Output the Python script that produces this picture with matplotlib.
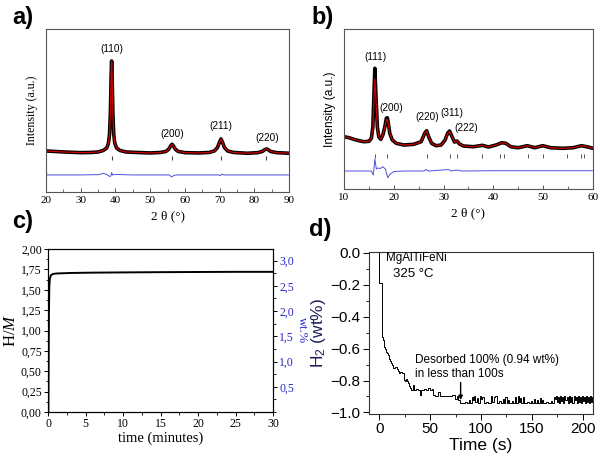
import matplotlib
matplotlib.use('Agg')
import matplotlib.pyplot as plt
from matplotlib.ticker import MultipleLocator

plt.rcParams['mathtext.fontset'] = 'custom'
plt.rcParams['mathtext.rm'] = 'Liberation Sans'
plt.rcParams['mathtext.it'] = 'Liberation Serif:italic'

SERIF = 'Liberation Serif'
SANS = 'Liberation Sans'

# a) XRD pattern (observed ~ calculated), arbitrary intensity units
a_x = [20, 25, 30, 33, 35, 36.5, 37.5, 38.0, 38.3, 38.55, 38.75, 38.9, 39.05, 39.25, 39.5,
       39.8, 40.3, 41.3, 43, 46, 50, 53, 54.5, 55.3, 55.9, 56.3, 56.7, 57.3, 58.1, 60,
       64, 67, 68.5, 69.4, 70.0, 70.4, 70.8, 71.4, 72.3, 74, 78, 81, 82.3, 83.1, 83.5,
       83.9, 84.7, 86.5, 90]
a_obs = [41, 40, 39.3, 39.5, 40, 41.5, 44, 49, 58, 80, 115, 131, 115, 80, 58,
         49, 44, 41.5, 40, 39.5, 39, 39.5, 40.5, 42.5, 46, 47.7, 46, 42.5, 40.5, 39.3,
         39, 39.5, 41, 44.5, 50, 53, 50, 44.5, 41, 39.5, 38.7, 39.3, 40.5, 42.5, 43,
         42.5, 40.5, 39.3, 38.7]
a_calc = a_obs
a_dx = [20, 20.2, 30, 35, 36.5, 37.5, 38.3, 38.7, 38.9, 39.2, 40, 45, 55.5, 56.2, 56.8,
        57.5, 69.8, 70.2, 70.6, 71.2, 90]
a_diff = [34, 17, 17, 17.3, 18.5, 17.5, 15.5, 16, 19.5, 17, 17.5, 17, 17, 15, 16.5,
          17, 17, 16.2, 17.8, 17, 17]
a_bragg = [38.9, 56.3, 70.4, 83.5]
a_hkl = ['(110)', '(200)', '(211)', '(220)']

# b) XRD pattern of the hydride
b_x = [10, 11, 12, 13, 14, 15, 15.5, 15.8, 16.0, 16.2, 16.4, 16.7, 17.0, 17.4, 17.8,
       18.2, 18.5, 18.7, 18.9, 19.2, 19.7, 20.5, 22, 24, 25.5, 26.2, 26.6, 27.0, 27.6, 28.5,
       29.5, 30.3, 30.8, 31.2, 31.7, 32.2, 32.7, 33.2, 34, 36, 37.8, 39, 40.5, 41.7, 42.5,
       43.5, 45, 46.8, 48.3, 49.9, 51.5, 54, 56, 57.7, 59, 60]
b_obs = [52.3, 51.3, 49.7, 48.3, 47.3, 47.7, 50.7, 62, 92, 120.7, 95.7, 62, 52, 49.7, 54,
         62, 70.7, 71.3, 66, 55.7, 49, 45.7, 44, 44.7, 47.3, 55.7, 58.3, 52.3, 45.7, 43.3,
         44, 49, 55.7, 58, 52.3, 47, 48, 45, 43, 42.3, 43.7, 42, 44, 46.3, 45.7,
         42.3, 41.3, 43.3, 41.3, 43.3, 41.3, 40.7, 41.3, 43.3, 42, 40.7]
b_calc = [52.3, 51.3, 49.7, 48.3, 47.3, 47.7, 50.7, 61, 88, 110, 92, 61, 52, 49.7, 54,
          62, 69, 69.5, 65, 55.7, 49, 45.7, 44, 44.7, 47.3, 55.7, 58, 52.3, 45.7, 43.3,
          44, 49, 55.7, 57.5, 52.3, 47, 48, 45, 43, 42.3, 43.7, 42, 44, 46.3, 45.7,
          42.3, 41.3, 43.3, 41.3, 43.3, 41.3, 40.7, 41.3, 43.3, 42, 40.7]
b_dx = [10, 15.5, 15.9, 16.2, 16.5, 16.8, 17.3, 17.8, 18.3, 18.8, 19.3, 20, 22, 26, 26.5,
        27, 31, 31.5, 32.8, 33.5, 40, 60]
b_diff = [18, 18, 14, 30, 20, 21, 20.5, 22.3, 20, 11.3, 15, 17.5, 18, 18, 19.5,
          18, 19.5, 18, 19, 18, 18.3, 18.3]
b_bragg = [16.2, 18.7, 26.6, 31.2, 32.6, 37.8, 41.3, 42.1, 46.9, 49.9, 54.7, 57.5, 58.2]
b_hkl = ['(111)', '(200)', '(220)', '(311)', '(222)']

# c) absorption kinetics
c_t = [0, 0.05, 0.08, 0.12, 0.18, 0.25, 0.4, 0.7, 1.2, 3, 6, 10, 15, 20, 25, 30]
c_hm = [0, 0, 0.5, 1.2, 1.55, 1.64, 1.68, 1.695, 1.70, 1.706, 1.71, 1.713, 1.716, 1.718, 1.72, 1.72]
c_yticks = [0, 0.25, 0.5, 0.75, 1.0, 1.25, 1.5, 1.75, 2.0]
c_ylabels = ['0,00', '0,25', '0,50', '0,75', '1,00', '1,25', '1,50', '1,75', '2,00']
c_wticks = [0.5, 1.0, 1.5, 2.0, 2.5, 3.0]
c_wlabels = ['0,5', '1,0', '1,5', '2,0', '2,5', '3,0']

# d) desorption at 325 C (step data)
d_steps = [(0, 0.0), (0.3, -0.19), (2.6, -0.53), (3.5, -0.545), (4.3, -0.59), (5.5, -0.6),
           (6.5, -0.62), (7.5, -0.63), (8.5, -0.64), (9.8, -0.665), (11, -0.68), (11.8, -0.69),
           (13, -0.70), (14, -0.72), (15.5, -0.715), (17.3, -0.73), (18, -0.74), (19, -0.75),
           (20.5, -0.745), (22.3, -0.75), (24, -0.795), (25, -0.80), (26, -0.79), (27.3, -0.806),
           (28, -0.815), (29, -0.837), (30.5, -0.85), (31.5, -0.86), (33, -0.83), (33.8, -0.86),
           (36, -0.855), (38, -0.86), (40.5, -0.89), (41.3, -0.86), (44, -0.855), (46, -0.86),
           (48, -0.85), (50, -0.86), (51.7, -0.855), (53, -0.89), (55, -0.90), (57, -0.895),
           (58, -0.87), (60, -0.90), (62, -0.895), (64, -0.90), (68, -0.895), (70, -0.90),
           (72, -0.89), (74.7, -0.915), (76, -0.90), (77.5, -0.92), (79.5, -0.94),
           (84, -0.935), (86, -0.94), (88, -0.92), (89, -0.94), (91, -0.905), (92, -0.92),
           (93, -0.90), (94.5, -0.935), (96, -0.91), (97, -0.94), (99, -0.90), (100, -0.915),
           (101, -0.905), (102.5, -0.94), (105, -0.935), (107, -0.94), (110, -0.90), (111, -0.935),
           (112.5, -0.905), (113.5, -0.90), (116, -0.94), (118, -0.93), (120, -0.94), (122, -0.915),
           (123, -0.94), (124, -0.905), (125.5, -0.94), (127, -0.925), (128, -0.94), (130, -0.93),
           (131, -0.94), (133, -0.905), (134.5, -0.94), (136, -0.90), (137, -0.935), (138.5, -0.91),
           (139.5, -0.94), (141, -0.905), (142, -0.94), (145, -0.935), (147, -0.94), (149, -0.93),
           (150, -0.94), (152, -0.915), (153, -0.94), (155.5, -0.92), (156, -0.94), (157.5, -0.91),
           (158.5, -0.94), (160, -0.925), (161, -0.94), (164, -0.935), (166, -0.94), (169, -0.93),
           (170, -0.94), (172, -0.905), (173, -0.915), (174, -0.90), (175, -0.935), (176, -0.905),
           (177, -0.94), (178, -0.90), (179, -0.93), (180, -0.905), (181, -0.94), (182, -0.90),
           (183, -0.92), (184, -0.905), (185, -0.94), (186.5, -0.90), (187.5, -0.935), (188.5, -0.905),
           (189.5, -0.94), (191, -0.90), (192, -0.925), (193, -0.905), (194, -0.94), (195, -0.90),
           (196, -0.935), (197, -0.905), (198, -0.94), (199.5, -0.90), (200.5, -0.93), (201.5, -0.905),
           (202.5, -0.94), (203.5, -0.90), (204.5, -0.935), (205.5, -0.905), (206.5, -0.94),
           (207.5, -0.90), (208.5, -0.935), (209.5, -0.905), (210, -0.92)]
d_t = [p[0] for p in d_steps]
d_h = [p[1] for p in d_steps]

fig = plt.figure(figsize=(6, 4.57), dpi=100)
ax_a = fig.add_axes([0.0767, 0.580, 0.405, 0.3565])
ax_b = fig.add_axes([0.5733, 0.5864, 0.415, 0.3501])
ax_c = fig.add_axes([0.080, 0.0985, 0.375, 0.3566])
ax_d = fig.add_axes([0.615, 0.0941, 0.3733, 0.3545])

RED = '#cc0000'
DIFF = '#5050e0'


def xrd_axes(ax, xlim, ylim, ylabel_font):
    ax.set_xlim(*xlim)
    ax.set_ylim(*ylim)
    ax.set_yticks([])
    ax.xaxis.set_major_locator(MultipleLocator(10))
    ax.xaxis.set_minor_locator(MultipleLocator(5))
    ax.tick_params(axis='x', which='major', direction='in', length=3, width=0.7,
                   labelsize=8, pad=3, color='#555555')
    ax.tick_params(axis='x', which='minor', direction='in', length=2, width=0.6, color='#555555')
    for lab in ax.get_xticklabels():
        lab.set_fontfamily(SERIF)
    for s in ax.spines.values():
        s.set_color('#555555')
        s.set_linewidth(0.8)
    ax.set_xlabel('2 θ (°)', family=SERIF, fontsize=9.5, labelpad=4)
    ax.set_ylabel('Intensity (a.u.)', family=ylabel_font, fontsize=8.6, labelpad=6)


# panel a
ax_a.plot(a_x, a_obs, color='black', lw=2.6, solid_joinstyle='round')
ax_a.plot(a_x, a_calc, color=RED, lw=0.9)
ax_a.plot(a_dx, a_diff, color=DIFF, lw=0.7)
ax_a.plot(a_bragg, [34] * len(a_bragg), '|', color='#444444', ms=3.5, mew=0.8)
xrd_axes(ax_a, (20, 90), (0, 163), SERIF)
for lab, x, y in zip(a_hkl, [39.0, 56.3, 70.4, 83.7], [143, 58, 66, 54]):
    ax_a.text(x, y, lab, ha='center', va='center', family=SANS, fontsize=7.2)

# panel b
ax_b.plot(b_x, b_obs, color='black', lw=2.6, solid_joinstyle='round')
ax_b.plot(b_x, b_calc, color=RED, lw=0.9)
ax_b.plot(b_dx, b_diff, color=DIFF, lw=0.7)
ax_b.plot(b_bragg, [33] * len(b_bragg), '|', color='#555555', ms=3.5, mew=0.7)
xrd_axes(ax_b, (10, 60), (0, 160), SANS)
for lab, x, y in zip(b_hkl, [16.4, 19.4, 26.7, 31.7, 34.5], [132, 81, 72, 76, 61]):
    ax_b.text(x, y, lab, ha='center', va='center', family=SANS, fontsize=7.2)

# panel c
ax_c.plot(c_t, c_hm, color='black', lw=1.4)
ax_c.set_xlim(0, 30)
ax_c.set_ylim(0, 2.0)
ax_c.xaxis.set_major_locator(MultipleLocator(5))
ax_c.xaxis.set_minor_locator(MultipleLocator(2.5))
ax_c.set_yticks(c_yticks)
ax_c.set_yticklabels(c_ylabels)
ax_c.yaxis.set_minor_locator(MultipleLocator(0.125))
ax_c.tick_params(which='major', direction='out', length=3, width=0.7, labelsize=8.5, pad=1.5)
ax_c.tick_params(which='minor', direction='out', length=1.8, width=0.6)
for lab in ax_c.get_xticklabels() + ax_c.get_yticklabels():
    lab.set_fontfamily(SERIF)
ax_c.set_xlabel('time (minutes)', family=SERIF, fontsize=10.5, labelpad=1)
ax_c.set_ylabel('H/$\\mathit{M}$', family=SERIF, fontsize=12, labelpad=1)
ax_cr = ax_c.twinx()
ax_cr.set_ylim(0, 3.23)
ax_cr.set_yticks(c_wticks)
ax_cr.set_yticklabels(c_wlabels)
ax_cr.yaxis.set_minor_locator(MultipleLocator(0.25))
ax_cr.tick_params(which='major', direction='out', length=3, width=0.7, labelsize=8.5,
                  pad=1.5, labelcolor='#2828c8')
ax_cr.tick_params(which='minor', direction='out', length=1.8, width=0.6)
for lab in ax_cr.get_yticklabels():
    lab.set_fontfamily(SERIF)
ax_cr.set_ylabel('wt.%', family=SERIF, fontsize=9, color='#2828c8', rotation=270, labelpad=10)

# panel d
ax_d.plot(d_t, d_h, color='black', lw=0.7, drawstyle='steps-post')
ax_d.set_xlim(-10, 210)
ax_d.set_ylim(-1.01, 0.006)
ax_d.xaxis.set_major_locator(MultipleLocator(50))
ax_d.xaxis.set_minor_locator(MultipleLocator(25))
ax_d.yaxis.set_major_locator(MultipleLocator(0.2))
ax_d.yaxis.set_minor_locator(MultipleLocator(0.1))
ax_d.tick_params(which='major', direction='out', length=4, width=0.7, labelsize=11, pad=2)
ax_d.tick_params(which='minor', direction='out', length=2.2, width=0.6)
for lab in ax_d.get_xticklabels() + ax_d.get_yticklabels():
    lab.set_fontfamily(SANS)
for s in ax_d.spines.values():
    s.set_color('#333333')
    s.set_linewidth(0.8)
ax_d.set_xlabel('Time (s)', family=SANS, fontsize=12.5, labelpad=1)
ax_d.set_ylabel('H$_\\mathrm{2}$ (wt%)', family=SANS, fontsize=12.5, color='#1e1e5a', labelpad=2)
ax_d.text(6.9, -0.03, 'MgAlTiFeNi', family=SANS, fontsize=8.4, ha='left', va='center')
ax_d.text(13.7, -0.134, '325 °C', family=SANS, fontsize=9.5, ha='left', va='center')
ax_d.text(35, -0.715, 'Desorbed 100% (0.94 wt%)\nin less than 100s', family=SANS,
          fontsize=8.5, ha='left', va='center', linespacing=1.15)
ax_d.annotate('', xy=(80, -0.94), xytext=(80, -0.795),
              arrowprops=dict(arrowstyle='-|>', color='black', lw=1.0, mutation_scale=6))

# panel letters
for txt, x, y in [('a)', 0.021, 0.962), ('b)', 0.519, 0.962), ('c)', 0.021, 0.515), ('d)', 0.515, 0.497)]:
    fig.text(x, y, txt, family=SANS, fontweight='bold', fontsize=17, ha='left', va='center')

fig.savefig('out.png', dpi=100)
